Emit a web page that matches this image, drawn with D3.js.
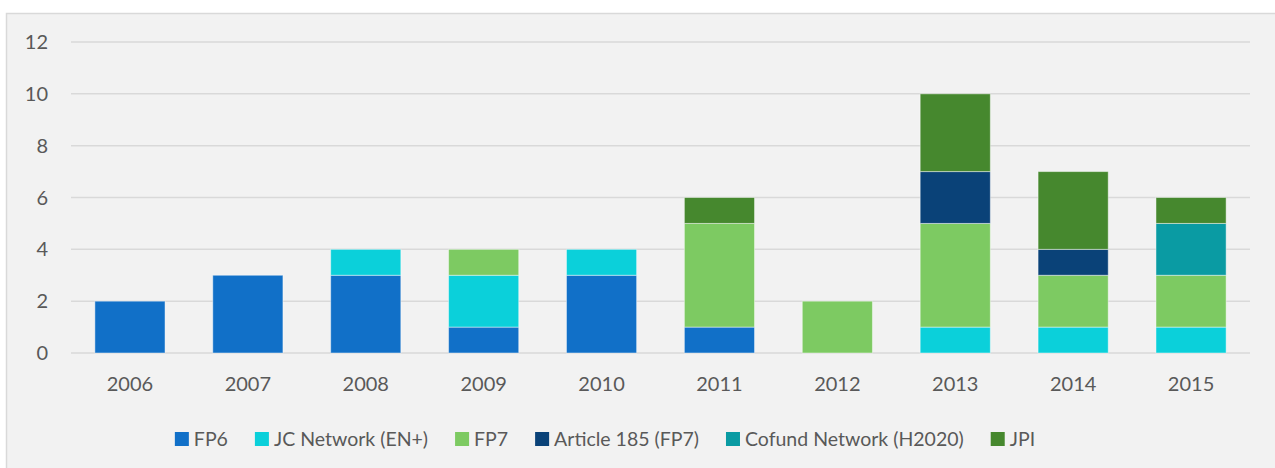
<!DOCTYPE html>
<html>
<head>
<meta charset="utf-8">
<script src="https://cdn.jsdelivr.net/npm/d3@7"></script>
<style>
  body { margin: 0; background: #fff; }
  text { font-family: Lato, "Open Sans", sans-serif; fill: #595959; }
</style>
</head>
<body>
<div id="chart"></div>
<script>
// data
var years = ["2006", "2007", "2008", "2009", "2010", "2011", "2012", "2013", "2014", "2015"];
var seriesNames = ["FP6", "JC Network (EN+)", "FP7", "Article 185 (FP7)", "Cofund Network (H2020)", "JPI"];
var fp6      = [2, 3, 3, 1, 3, 1, 0, 0, 0, 0];
var jcNet    = [0, 0, 1, 2, 1, 0, 0, 1, 1, 1];
var fp7      = [0, 0, 0, 1, 0, 4, 2, 4, 2, 2];
var art185   = [0, 0, 0, 0, 0, 0, 0, 2, 1, 0];
var cofund   = [0, 0, 0, 0, 0, 0, 0, 0, 0, 2];
var jpi      = [0, 0, 0, 0, 0, 1, 0, 3, 3, 1];
var yTicks = [0, 2, 4, 6, 8, 10, 12];
var colors = ["#1170c8", "#0bd0da", "#7dca62", "#0a4278", "#0a9ba3", "#46882e"];

var width = 1275, height = 468;
var margin = { top: 42, right: 25, bottom: 115, left: 71 };
var innerW = width - margin.left - margin.right,
    innerH = height - margin.top - margin.bottom;

var svg = d3.select("#chart").append("svg")
    .attr("width", width)
    .attr("height", height);

// chart panel
svg.append("rect")
    .attr("x", 6.5).attr("y", 13.5)
    .attr("width", width).attr("height", height)
    .attr("fill", "#f2f2f2")
    .attr("stroke", "#d9d9d9")
    .attr("stroke-width", 1.5);

var g = svg.append("g")
    .attr("transform", "translate(" + margin.left + "," + margin.top + ")");

var x = d3.scaleBand().domain(years).range([0, innerW]).paddingInner(0.405).paddingOuter(0.2025);
var y = d3.scaleLinear().domain([0, 12]).range([innerH, 0]);

// gridlines
g.selectAll("line.grid")
    .data(yTicks)
    .enter().append("line")
    .attr("class", "grid")
    .attr("x1", 0).attr("x2", innerW)
    .attr("y1", function (d) { return y(d); })
    .attr("y2", function (d) { return y(d); })
    .attr("stroke", "#d9d9d9")
    .attr("stroke-width", 1.5);

// stack
var table = years.map(function (yr, i) {
    return { year: yr, s0: fp6[i], s1: jcNet[i], s2: fp7[i], s3: art185[i], s4: cofund[i], s5: jpi[i] };
});
var keys = ["s0", "s1", "s2", "s3", "s4", "s5"];
var stacked = d3.stack().keys(keys)(table);

g.selectAll("g.layer")
    .data(stacked)
    .enter().append("g")
    .attr("class", "layer")
    .attr("fill", function (d, i) { return colors[i]; })
    .selectAll("rect")
    .data(function (d) { return d.filter(function (p) { return p[1] - p[0] > 0; }); })
    .enter().append("rect")
    .attr("x", function (d) { return x(d.data.year); })
    .attr("width", x.bandwidth())
    .attr("y", function (d) { return y(d[1]); })
    .attr("height", function (d) { return y(d[0]) - y(d[1]); })
    .attr("stroke", "rgba(255,255,255,0.45)")
    .attr("stroke-width", 1);

// y axis labels
g.selectAll("text.ytick")
    .data(yTicks)
    .enter().append("text")
    .attr("class", "ytick")
    .attr("x", -23)
    .attr("y", function (d) { return y(d); })
    .attr("dy", "0.35em")
    .attr("text-anchor", "end")
    .style("font-size", "20px")
    .text(function (d) { return d; });

// x axis labels
g.selectAll("text.xtick")
    .data(years)
    .enter().append("text")
    .attr("class", "xtick")
    .attr("x", function (d) { return x(d) + x.bandwidth() / 2; })
    .attr("y", innerH + 38)
    .attr("text-anchor", "middle")
    .style("font-size", "20px")
    .text(function (d) { return d; });

// legend
var legend = svg.append("g").attr("class", "legend");
var items = legend.selectAll("g.item")
    .data(seriesNames)
    .enter().append("g")
    .attr("class", "item");

items.append("rect")
    .attr("width", 14).attr("height", 14)
    .attr("y", -14)
    .attr("fill", function (d, i) { return colors[i]; });

items.append("text")
    .attr("x", 19)
    .attr("y", 0)
    .style("font-size", "19.5px")
    .text(function (d) { return d; });

var pos = 0, gap = 27;
items.each(function () {
    var w = this.getBBox().width;
    d3.select(this).attr("data-x", pos);
    pos += w + gap;
});
var total = pos - gap;
var startX = 605 - total / 2;
items.attr("transform", function () {
    return "translate(" + (startX + +d3.select(this).attr("data-x")) + ",446)";
});
</script>
</body>
</html>
